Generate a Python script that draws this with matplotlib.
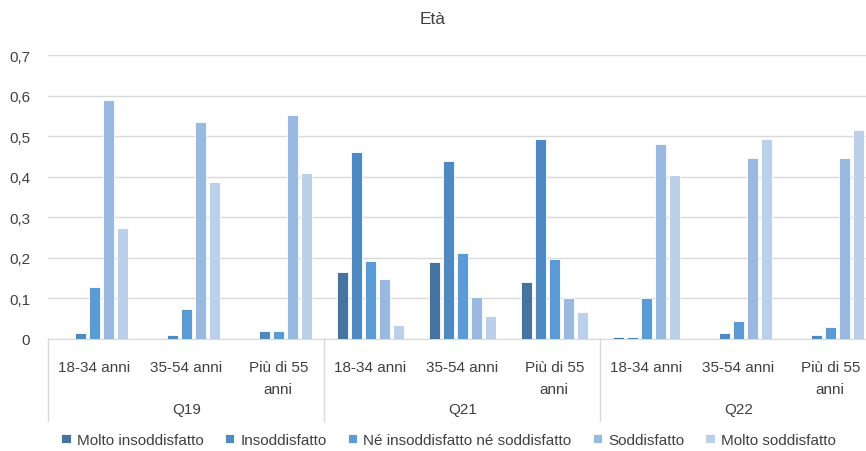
import matplotlib
matplotlib.use('Agg')
import matplotlib.pyplot as plt
import numpy as np

plt.rcParams['font.family'] = ['Liberation Sans', 'DejaVu Sans']

groups = ['Q19', 'Q21', 'Q22']
ages = ['18-34 anni', '35-54 anni', 'Più di 55\nanni']
series = ['Molto insoddisfatto', 'Insoddisfatto', 'Né insoddisfatto né soddisfatto',
          'Soddisfatto', 'Molto soddisfatto']
colors = ['#44749F', '#4E8AC1', '#5B9BD5', '#9AB9E0', '#BDD0EA']

# one list per series, 9 values: Q19 (3 age bands), Q21, Q22
molto_insodd = [0.0, 0.0, 0.0, 0.164, 0.191, 0.140, 0.005, 0.0, 0.0]
insodd = [0.014, 0.011, 0.019, 0.460, 0.438, 0.494, 0.005, 0.016, 0.011]
neutro = [0.127, 0.074, 0.019, 0.193, 0.211, 0.196, 0.102, 0.044, 0.029]
sodd = [0.589, 0.535, 0.552, 0.147, 0.104, 0.102, 0.480, 0.447, 0.447]
molto_sodd = [0.273, 0.387, 0.410, 0.035, 0.057, 0.066, 0.405, 0.494, 0.515]
values = [molto_insodd, insodd, neutro, sodd, molto_sodd]

fig = plt.figure(figsize=(8.66, 4.52), dpi=100)
ax = fig.add_axes([48.3 / 866, 112 / 452, 828 / 866, 284 / 452])

n_cat = len(groups) * len(ages)
centers = np.arange(n_cat) + 0.5
step = 14 / 92
width = 11.5 / 92
for k, (name, vals, c) in enumerate(zip(series, values, colors)):
    ax.bar(centers + (k - 2) * step, vals, width=width, color=c,
           edgecolor='white', linewidth=0.6, label=name, zorder=3)

ax.set_xlim(0, n_cat)
ax.set_ylim(0, 0.7)
ax.set_yticks(np.arange(0, 0.71, 0.1))
ax.set_yticklabels(['0' if v == 0 else f'{v:.1f}'.replace('.', ',') for v in np.arange(0, 0.71, 0.1)])
ax.tick_params(axis='y', length=0, pad=13, labelsize=11, colors='#404040')
ax.set_xticks([])
ax.grid(axis='y', color='#D9D9D9', linewidth=1, zorder=0)
for s in ['left', 'right', 'top']:
    ax.spines[s].set_visible(False)
ax.spines['bottom'].set_color('#D9D9D9')

tr = ax.get_xaxis_transform()
h = 284
for i in range(n_cat):
    ax.text(centers[i], -21 / h, ages[i % 3], transform=tr, ha='center', va='top',
            fontsize=11, color='#404040', linespacing=1.75)
for g, name in enumerate(groups):
    ax.text(g * 3 + 1.5, -70 / h, name, transform=tr, ha='center', va='center',
            fontsize=11, color='#404040')
for x in range(0, n_cat + 1, 3):
    ax.plot([x, x], [0, -82 / h], transform=tr, color='#D9D9D9', linewidth=1, clip_on=False)

fig.text(0.5, 1 - 20 / 452, 'Età', ha='center', va='center', fontsize=12.5, color='#404040')

fig.legend(loc='center', bbox_to_anchor=(448.5 / 866, 1 - 441 / 452), ncol=5, frameon=False,
           fontsize=11, handlelength=0.6, handleheight=0.6, handletextpad=0.4,
           columnspacing=1.4, labelcolor='#404040')

fig.savefig('out.png', dpi=100)
